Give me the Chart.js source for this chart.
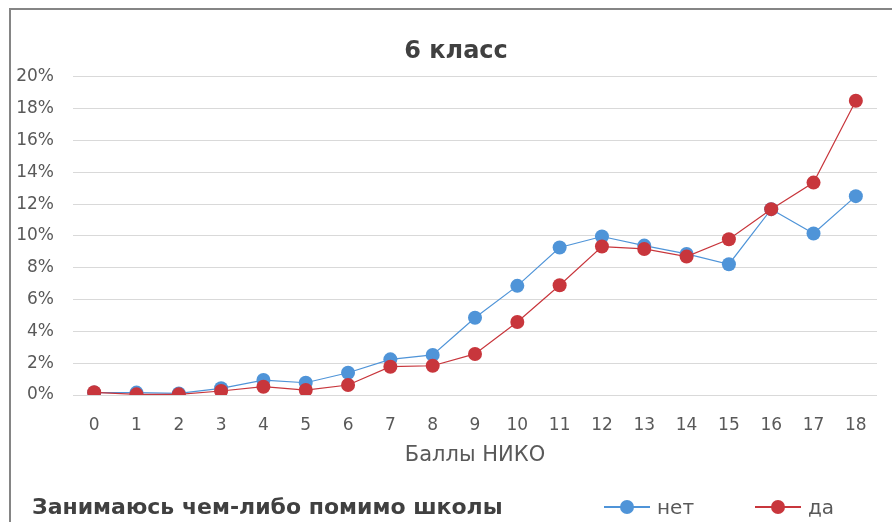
<!DOCTYPE html>
<html>
<head>
<meta charset="utf-8">
<script src="https://cdn.jsdelivr.net/npm/chart.js@4/dist/chart.umd.min.js"></script>
<style>
  html, body { margin: 0; padding: 0; background: #fff; }
  body { width: 892px; height: 522px; position: relative; overflow: hidden; font-family: "DejaVu Sans", sans-serif; }
  #frame { position: absolute; left: 9px; top: 8px; width: 900px; height: 530px;
           border-left: 2px solid #858585; border-top: 2px solid #858585; }
  #wrap { position: absolute; left: 11px; top: 10px; width: 905px; height: 512px; }
  #legendTitle { position: absolute; left: 32px; top: 493px; font: bold 22px "DejaVu Sans", sans-serif;
                 color: #404040; white-space: nowrap; line-height: 28px; }
  #legend { position: absolute; left: 604px; top: 493px; display: flex; align-items: center; height: 28px; }
  .item { display: flex; align-items: center; width: 151px; font: 20px "DejaVu Sans", sans-serif; color: #595959; }
  .mk { position: relative; width: 46px; height: 16px; margin-right: 7px; }
  .mk .ln { position: absolute; left: 0; right: 0; top: 7px; height: 1.5px; }
  .mk .dt { position: absolute; left: 16px; top: 1px; width: 14px; height: 14px; border-radius: 50%; }
</style>
</head>
<body>
<div id="frame"></div>
<div id="wrap"><canvas id="c" width="905" height="512"></canvas></div>
<div id="legendTitle">Занимаюсь чем-либо помимо школы</div>
<div id="legend"></div>
<script>
// ---- data ----
const categories = ['0','1','2','3','4','5','6','7','8','9','10','11','12','13','14','15','16','17','18'];
const seriesNames = ['нет', 'да'];
const netValues = [0.15, 0.15, 0.1, 0.42, 0.94, 0.77, 1.4, 2.24, 2.52, 4.86, 6.86, 9.27, 9.96, 9.39, 8.87, 8.22, 11.68, 10.15, 12.5];
const daValues  = [0.17, 0.04, 0.04, 0.25, 0.52, 0.31, 0.63, 1.78, 1.84, 2.58, 4.59, 6.9, 9.33, 9.18, 8.7, 9.79, 11.68, 13.35, 18.49];
const yTickValues = [0, 2, 4, 6, 8, 10, 12, 14, 16, 18, 20];
const chartTitle = '6 класс';
const xAxisTitle = 'Баллы НИКО';

const blue = '#4f94d8';
const red = '#c8363c';

const htmlLegend = {
  id: 'htmlLegend',
  afterUpdate(chart) {
    const box = document.getElementById('legend');
    box.innerHTML = '';
    chart.data.datasets.forEach(ds => {
      const it = document.createElement('div'); it.className = 'item';
      const mk = document.createElement('span'); mk.className = 'mk';
      const ln = document.createElement('span'); ln.className = 'ln'; ln.style.background = ds.borderColor;
      const dt = document.createElement('span'); dt.className = 'dt'; dt.style.background = ds.pointBackgroundColor;
      mk.appendChild(ln); mk.appendChild(dt);
      const tx = document.createElement('span'); tx.textContent = ds.label;
      it.appendChild(mk); it.appendChild(tx);
      box.appendChild(it);
    });
  }
};

// centre the chart title over the whole chart frame rather than over the plot
const titleShift = {
  id: 'titleShift',
  afterLayout(chart) {
    const t = chart.titleBlock;
    if (t) { t.left += 24; t.width = t.right - t.left; }
  }
};

new Chart(document.getElementById('c'), {
  type: 'line',
  data: {
    labels: categories,
    datasets: [
      { label: seriesNames[0], data: netValues, borderColor: blue, backgroundColor: blue,
        pointBackgroundColor: blue, pointBorderColor: blue, borderWidth: 1.2,
        pointRadius: 7, pointBorderWidth: 0, tension: 0, order: 1 },
      { label: seriesNames[1], data: daValues, borderColor: red, backgroundColor: red,
        pointBackgroundColor: red, pointBorderColor: red, borderWidth: 1.2,
        pointRadius: 7, pointBorderWidth: 0, tension: 0, order: 0 }
    ]
  },
  options: {
    responsive: false,
    animation: false,
    layout: { padding: { top: 0, right: 39, bottom: 47, left: 0 } },
    plugins: {
      legend: { display: false },
      tooltip: { enabled: false },
      title: {
        display: true, text: chartTitle, color: '#404040',
        font: { family: 'DejaVu Sans', size: 24, weight: 'bold', lineHeight: 1.2 },
        padding: { top: 27, bottom: 11 }
      }
    },
    scales: {
      x: {
        offset: true,
        grid: { display: false, drawTicks: false },
        border: { display: false },
        ticks: { color: '#595959', font: { family: 'DejaVu Sans', size: 17 }, padding: 20, maxRotation: 0, autoSkip: false },
        title: { display: true, text: xAxisTitle, color: '#595959',
                 font: { family: 'DejaVu Sans', size: 21, lineHeight: 1.2 }, padding: { top: 0, bottom: 7 } },
        afterFit(s) { s.height = 80; }
      },
      y: {
        min: 0, max: 20,
        grid: { color: '#d9d9d9', lineWidth: 1, drawTicks: false },
        border: { display: false },
        afterBuildTicks(s) { s.ticks = yTickValues.map(v => ({ value: v })); },
        ticks: { color: '#595959', font: { family: 'DejaVu Sans', size: 17 }, padding: 19,
                 callback: v => v + '%' },
        afterFit(s) { s.width = 62; }
      }
    }
  },
  plugins: [htmlLegend, titleShift]
});
</script>
</body>
</html>
